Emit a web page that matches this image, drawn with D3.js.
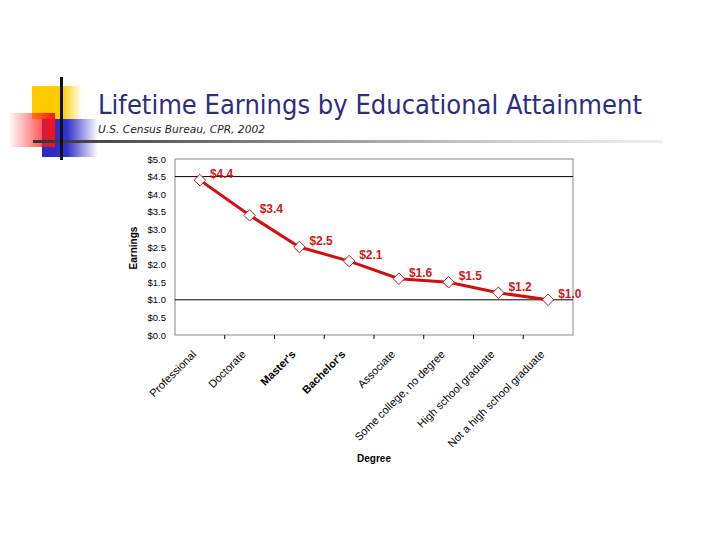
<!DOCTYPE html>
<html><head><meta charset="utf-8">
<script src="https://cdn.jsdelivr.net/npm/d3@7"></script>
<style>body{margin:0;background:#fff}svg{display:block}</style>
</head><body>
<script>
const categories = ["Professional","Doctorate","Master's","Bachelor's","Associate","Some college, no degree","High school graduate","Not a high school graduate"];
const earnings = [4.4, 3.4, 2.5, 2.1, 1.6, 1.5, 1.2, 1.0];
const valueLabels = ["$4.4","$3.4","$2.5","$2.1","$1.6","$1.5","$1.2","$1.0"];
const yTicks = [0,0.5,1,1.5,2,2.5,3,3.5,4,4.5,5];
const gridValues = [4.5, 1.0];
const boldCats = ["Master's","Bachelor's"];

(function(){
const W=720,H=540;
const svg=d3.select("body").append("svg").attr("width",W).attr("height",H);
const defs=svg.append("defs");
function grad(id,stops){const g=defs.append("linearGradient").attr("id",id).attr("x1","0").attr("x2","1").attr("y1","0").attr("y2","0");
 stops.forEach(s=>g.append("stop").attr("offset",s[0]).attr("stop-color",s[1]).attr("stop-opacity",s[2]));}
grad("gy",[[0,"#FFCC00",1],[0.6,"#FFCC00",1],[1,"#FFCC00",0]]);
grad("gb",[[0,"#2A2ABF",1],[0.45,"#3333CC",1],[1,"#3333CC",0]]);
grad("gr",[[0,"#FF3030",0.05],[1,"#FF1010",1]]);
grad("gl",[[0,"#333",1],[0.4,"#888",1],[1,"#ddd",0.5]]);

// decoration
svg.append("rect").attr("x",32).attr("y",86).attr("width",50).attr("height",33).attr("fill","url(#gy)");
svg.append("rect").attr("x",42).attr("y",119).attr("width",56).attr("height",38).attr("fill","url(#gb)");
svg.append("rect").attr("x",10).attr("y",113).attr("width",45).attr("height",34).attr("fill","url(#gr)");
svg.append("rect").attr("x",33).attr("y",140).attr("width",630).attr("height",3).attr("fill","url(#gl)");
svg.append("rect").attr("x",60).attr("y",77).attr("width",3).attr("height",83).attr("fill","#111");

svg.append("text").attr("x",98).attr("y",114).attr("font-family","DejaVu Sans, Verdana, sans-serif").attr("font-size",26)
 .attr("fill","#2D2D80").attr("textLength",544).attr("lengthAdjust","spacingAndGlyphs").text("Lifetime Earnings by Educational Attainment");
svg.append("text").attr("x",98).attr("y",133).attr("font-family","DejaVu Sans, sans-serif").attr("font-style","italic").attr("font-size",11)
 .attr("fill","#222").attr("textLength",167).attr("lengthAdjust","spacingAndGlyphs").text("U.S. Census Bureau, CPR, 2002");

// chart
const pl=175,pr=573,pt=159,pb=335;
const x=d3.scalePoint().domain(categories).range([pl,pr]).padding(0.5);
const y=d3.scaleLinear().domain([0,5]).range([pb,pt]);
const F="Liberation Sans, Arial, sans-serif";

svg.append("rect").attr("x",pl).attr("y",pt).attr("width",pr-pl).attr("height",pb-pt)
 .attr("fill","none").attr("stroke","#888").attr("stroke-width",1);
svg.selectAll(".grid").data(gridValues).join("line").attr("x1",pl).attr("x2",pr)
 .attr("y1",d=>y(d)).attr("y2",d=>y(d)).attr("stroke","#000").attr("stroke-width",1);

const yAxis=svg.append("g").attr("transform",`translate(${pl},0)`).call(d3.axisLeft(y).tickValues(yTicks).tickFormat(d=>"$"+d.toFixed(1)).tickSize(0).tickPadding(9));
yAxis.select(".domain").remove();
yAxis.selectAll("text").attr("font-family",F).attr("font-size",9.5).attr("fill","#000");

const step=x.step();
const bounds=d3.range(1,categories.length).map(i=>pl+step*i);
svg.selectAll(".xt").data(bounds).join("line").attr("x1",d=>d).attr("x2",d=>d).attr("y1",pb).attr("y2",pb+4).attr("stroke","#000");

svg.selectAll(".cl").data(categories).join("text")
 .attr("transform",d=>`translate(${x(d)-3},${pb+20}) rotate(-45)`)
 .attr("text-anchor","end").attr("font-family",F).attr("font-size",11)
 .attr("font-weight",d=>boldCats.includes(d)?"bold":"normal").attr("fill","#000").text(d=>d);

svg.append("text").attr("transform",`translate(137,248) rotate(-90)`).attr("text-anchor","middle")
 .attr("font-family",F).attr("font-weight","bold").attr("font-size",10).text("Earnings");
svg.append("text").attr("x",374).attr("y",462).attr("text-anchor","middle")
 .attr("font-family",F).attr("font-weight","bold").attr("font-size",10).text("Degree");

const line=d3.line().x((d,i)=>x(categories[i])).y(d=>y(d));
svg.append("path").datum(earnings).attr("d",line).attr("fill","none").attr("stroke","#D01010").attr("stroke-width",3);
const sym=d3.symbol().type(d3.symbolDiamond2).size(85);
svg.selectAll(".pt").data(earnings).join("path").attr("d",sym)
 .attr("transform",(d,i)=>`translate(${x(categories[i])},${y(d)})`)
 .attr("fill","#fff").attr("stroke","#C01818").attr("stroke-width",1);
svg.selectAll(".vl").data(earnings).join("text")
 .attr("x",(d,i)=>x(categories[i])+10).attr("y",d=>y(d)-2)
 .attr("font-family",F).attr("font-weight","bold").attr("font-size",12).attr("fill","#CC1A1A")
 .text((d,i)=>valueLabels[i]);
})();
</script>
</body></html>
